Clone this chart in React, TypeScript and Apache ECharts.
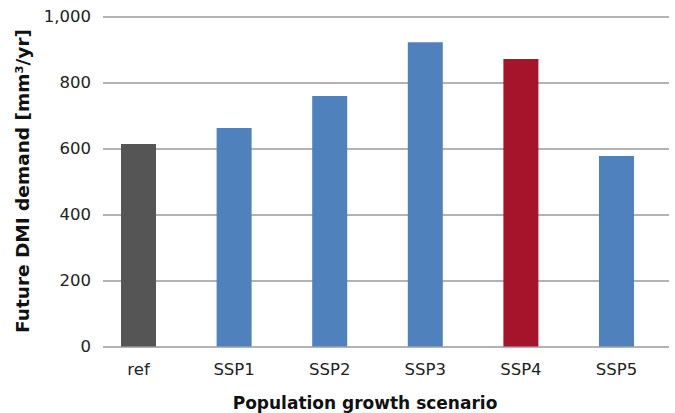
import React, { useEffect, useRef } from "react";
import * as echarts from "echarts";

const categories = ["ref", "SSP1", "SSP2", "SSP3", "SSP4", "SSP5"];
const demandValues = [614, 662, 759, 922, 871, 577];
const barColors = ["#555555", "#4F81BD", "#4F81BD", "#4F81BD", "#A6142B", "#4F81BD"];
const yTicks = [0, 200, 400, 600, 800, 1000];
const xTitle = "Population growth scenario";
const yTitle = "Future DMI demand [mm³/yr]";

const FONT = "'DejaVu Sans', sans-serif";

export default function App() {
  const ref = useRef<HTMLDivElement>(null);
  useEffect(() => {
    if (!ref.current) return;
    const chart = echarts.init(ref.current, undefined, { renderer: "svg" });
    const top = 16.5;
    const bottom = 413 - 346.5;
    chart.setOption({
      animation: false,
      backgroundColor: "#ffffff",
      grid: [
        { left: 90.7, right: 10.7, top, bottom },
        { left: 103, right: 6, top, bottom },
      ],
      xAxis: [
        {
          type: "category",
          gridIndex: 0,
          data: categories,
          axisLine: { show: false },
          axisTick: { show: false },
          axisLabel: { color: "#222222", fontSize: 16.5, fontFamily: FONT, margin: 14 },
        },
        {
          type: "value",
          gridIndex: 1,
          min: 0,
          max: 1,
          show: true,
          axisLine: { show: false },
          axisTick: { show: false },
          axisLabel: { show: false },
          splitLine: { show: false },
        },
      ],
      yAxis: [
        {
          type: "value",
          gridIndex: 0,
          min: 0,
          max: 1000,
          interval: 200,
          show: false,
        },
        {
          type: "value",
          gridIndex: 1,
          min: 0,
          max: 1000,
          interval: 200,
          axisLine: { show: false },
          axisTick: { show: false },
          axisLabel: {
            color: "#222222",
            fontSize: 16.5,
            fontFamily: FONT,
            margin: 12,
            formatter: (v: number) => v.toLocaleString("en-US"),
          },
          splitLine: { show: true, lineStyle: { color: "#9a9a9a", width: 1.5 } },
        },
      ],
      series: [
        {
          type: "bar",
          xAxisIndex: 0,
          yAxisIndex: 0,
          barWidth: 35,
          data: demandValues.map((v, i) => ({ value: v, itemStyle: { color: barColors[i] } })),
          z: 3,
        },
      ],
      graphic: [
        {
          type: "text",
          x: 365,
          y: 403,
          style: {
            text: xTitle,
            fontSize: 17,
            fontWeight: "bold",
            fontFamily: FONT,
            fill: "#111111",
            textAlign: "center",
            textVerticalAlign: "middle",
          },
        },
        {
          type: "text",
          x: 22,
          y: 181,
          rotation: Math.PI / 2,
          style: {
            text: yTitle,
            fontSize: 18.5,
            fontWeight: "bold",
            fontFamily: FONT,
            fill: "#111111",
            textAlign: "center",
            textVerticalAlign: "middle",
          },
        },
      ],
    });
    return () => chart.dispose();
  }, []);
  return <div ref={ref} style={{ width: 675, height: 413, position: "absolute", left: 0, top: 0 }} />;
}
